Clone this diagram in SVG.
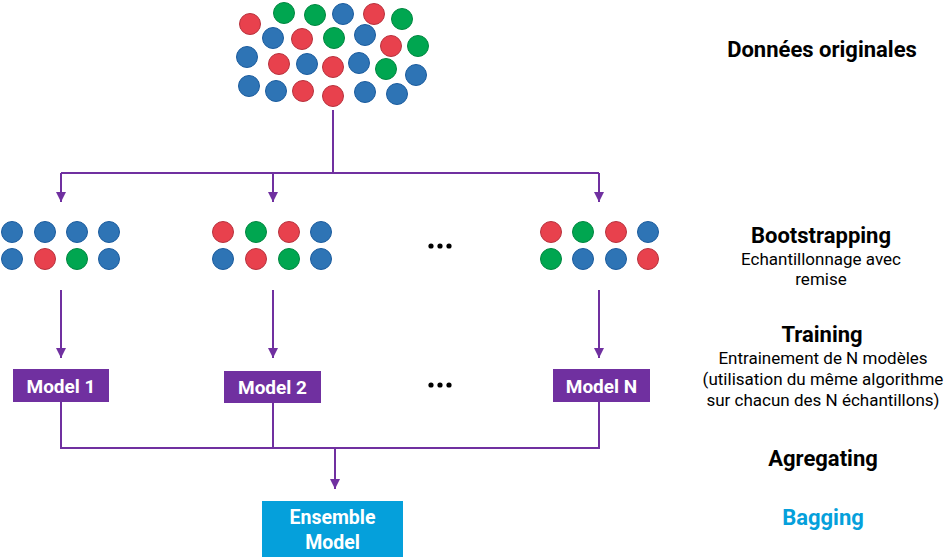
<svg xmlns="http://www.w3.org/2000/svg" width="947" height="560" viewBox="0 0 947 560">
<style>
.r{fill:#E8414D;stroke:#B8323D;stroke-width:1}
.b{fill:#2E74B5;stroke:#1B5C9E;stroke-width:1}
.g{fill:#00A650;stroke:#008740;stroke-width:1}
.ln{stroke:#7030A0;stroke-width:2;fill:none}
.box{fill:#7030A0}
.bt{font-family:Roboto,"Liberation Sans",sans-serif;font-weight:bold;font-size:19px;fill:#fff;text-anchor:middle}
.h{font-family:Roboto,"Liberation Sans",sans-serif;font-weight:bold;font-size:22px;fill:#000;text-anchor:middle}
.s{font-family:Roboto,"Liberation Sans",sans-serif;font-size:17px;fill:#000;text-anchor:middle}
.dot{fill:#000}
</style>
<defs>
<marker id="ah" viewBox="0 0 10 10" refX="10" refY="5" markerWidth="5" markerHeight="5" orient="auto" markerUnits="strokeWidth">
<path d="M0,0 L10,5 L0,10 z" fill="#7030A0"/>
</marker>
</defs>
<rect width="947" height="560" fill="#fff"/>

<g id="donnees">
<circle class="r" cx="250" cy="24" r="10.5"/>
<circle class="g" cx="284" cy="13" r="10.5"/>
<circle class="g" cx="315" cy="15" r="10.5"/>
<circle class="b" cx="343" cy="14" r="10.5"/>
<circle class="r" cx="374" cy="14" r="10.5"/>
<circle class="g" cx="402" cy="19" r="10.5"/>
<circle class="b" cx="273" cy="38" r="10.5"/>
<circle class="r" cx="302" cy="39" r="10.5"/>
<circle class="g" cx="334" cy="38" r="10.5"/>
<circle class="b" cx="365" cy="35" r="10.5"/>
<circle class="r" cx="391" cy="46" r="10.5"/>
<circle class="g" cx="418" cy="46" r="10.5"/>
<circle class="b" cx="247" cy="57" r="10.5"/>
<circle class="r" cx="279" cy="64" r="10.5"/>
<circle class="b" cx="307" cy="64" r="10.5"/>
<circle class="r" cx="333" cy="67" r="10.5"/>
<circle class="b" cx="359" cy="63" r="10.5"/>
<circle class="g" cx="386" cy="69" r="10.5"/>
<circle class="b" cx="416" cy="75" r="10.5"/>
<circle class="b" cx="249" cy="86" r="10.5"/>
<circle class="b" cx="276" cy="91" r="10.5"/>
<circle class="r" cx="303" cy="91" r="10.5"/>
<circle class="r" cx="333" cy="96" r="10.5"/>
<circle class="b" cx="365" cy="92" r="10.5"/>
<circle class="b" cx="397" cy="94" r="10.5"/>
</g>

<g id="sample1">
<circle class="b" cx="12" cy="232" r="10.5"/>
<circle class="b" cx="45" cy="232" r="10.5"/>
<circle class="b" cx="77" cy="232" r="10.5"/>
<circle class="b" cx="109" cy="232" r="10.5"/>
<circle class="b" cx="12" cy="259" r="10.5"/>
<circle class="r" cx="45" cy="259" r="10.5"/>
<circle class="g" cx="77" cy="259" r="10.5"/>
<circle class="b" cx="109" cy="259" r="10.5"/>
</g>
<g id="sample2">
<circle class="r" cx="223" cy="232" r="10.5"/>
<circle class="g" cx="256" cy="232" r="10.5"/>
<circle class="r" cx="289" cy="232" r="10.5"/>
<circle class="b" cx="321" cy="232" r="10.5"/>
<circle class="b" cx="223" cy="259" r="10.5"/>
<circle class="r" cx="256" cy="259" r="10.5"/>
<circle class="g" cx="289" cy="259" r="10.5"/>
<circle class="b" cx="321" cy="259" r="10.5"/>
</g>
<g id="sampleN">
<circle class="r" cx="551" cy="232" r="10.5"/>
<circle class="g" cx="583" cy="232" r="10.5"/>
<circle class="r" cx="616" cy="232" r="10.5"/>
<circle class="b" cx="648" cy="232" r="10.5"/>
<circle class="g" cx="551" cy="259" r="10.5"/>
<circle class="b" cx="583" cy="259" r="10.5"/>
<circle class="b" cx="616" cy="259" r="10.5"/>
<circle class="r" cx="648" cy="259" r="10.5"/>
</g>
<g id="dots1">
<circle class="dot" cx="431" cy="246" r="2.6"/>
<circle class="dot" cx="440" cy="246" r="2.6"/>
<circle class="dot" cx="449" cy="246" r="2.6"/>
</g>

<g id="model1">
<rect class="box" x="13" y="369" width="96" height="33"/>
<text class="bt" x="61" y="392.5">Model 1</text>
</g>
<g id="model2">
<rect class="box" x="224" y="371" width="97" height="32"/>
<text class="bt" x="272.5" y="394">Model 2</text>
</g>
<g id="modelN">
<rect class="box" x="553" y="369" width="97" height="33"/>
<text class="bt" x="601.5" y="392.5">Model N</text>
</g>
<g id="dots2">
<circle class="dot" cx="431" cy="385" r="2.6"/>
<circle class="dot" cx="440" cy="385" r="2.6"/>
<circle class="dot" cx="449" cy="385" r="2.6"/>
</g>

<g id="ensemble">
<rect x="262" y="501" width="141" height="56" fill="#05A0DB"/>
<text class="bt" x="332.5" y="524" style="font-size:19.5px">Ensemble</text>
<text class="bt" x="332.5" y="549" style="font-size:19.5px">Model</text>
</g>

<g id="connectors">
<path class="ln" d="M333,110 V173"/>
<path class="ln" d="M61,173 H599"/>
<path class="ln" d="M61,173 V202" marker-end="url(#ah)"/>
<path class="ln" d="M273,173 V202" marker-end="url(#ah)"/>
<path class="ln" d="M599,173 V202" marker-end="url(#ah)"/>
<path class="ln" d="M61,290 V358" marker-end="url(#ah)"/>
<path class="ln" d="M273,290 V358" marker-end="url(#ah)"/>
<path class="ln" d="M599,290 V358" marker-end="url(#ah)"/>
<path class="ln" d="M61,402 V448 H599 V402"/>
<path class="ln" d="M273,403 V448"/>
<path class="ln" d="M335,448 V489" marker-end="url(#ah)"/>
</g>

<g id="labels">
<text class="h" x="822" y="57">Données originales</text>
<text class="h" x="821" y="243">Bootstrapping</text>
<text class="s" x="821" y="265">Echantillonnage avec</text>
<text class="s" x="821" y="285">remise</text>
<text class="h" x="822" y="342">Training</text>
<text class="s" x="823" y="364">Entrainement de N modèles</text>
<text class="s" x="823" y="385">(utilisation du même algorithme</text>
<text class="s" x="823" y="406">sur chacun des N échantillons)</text>
<text class="h" x="823" y="466">Agregating</text>
<text class="h" x="823" y="525" style="fill:#05A0DB">Bagging</text>
</g>
</svg>
